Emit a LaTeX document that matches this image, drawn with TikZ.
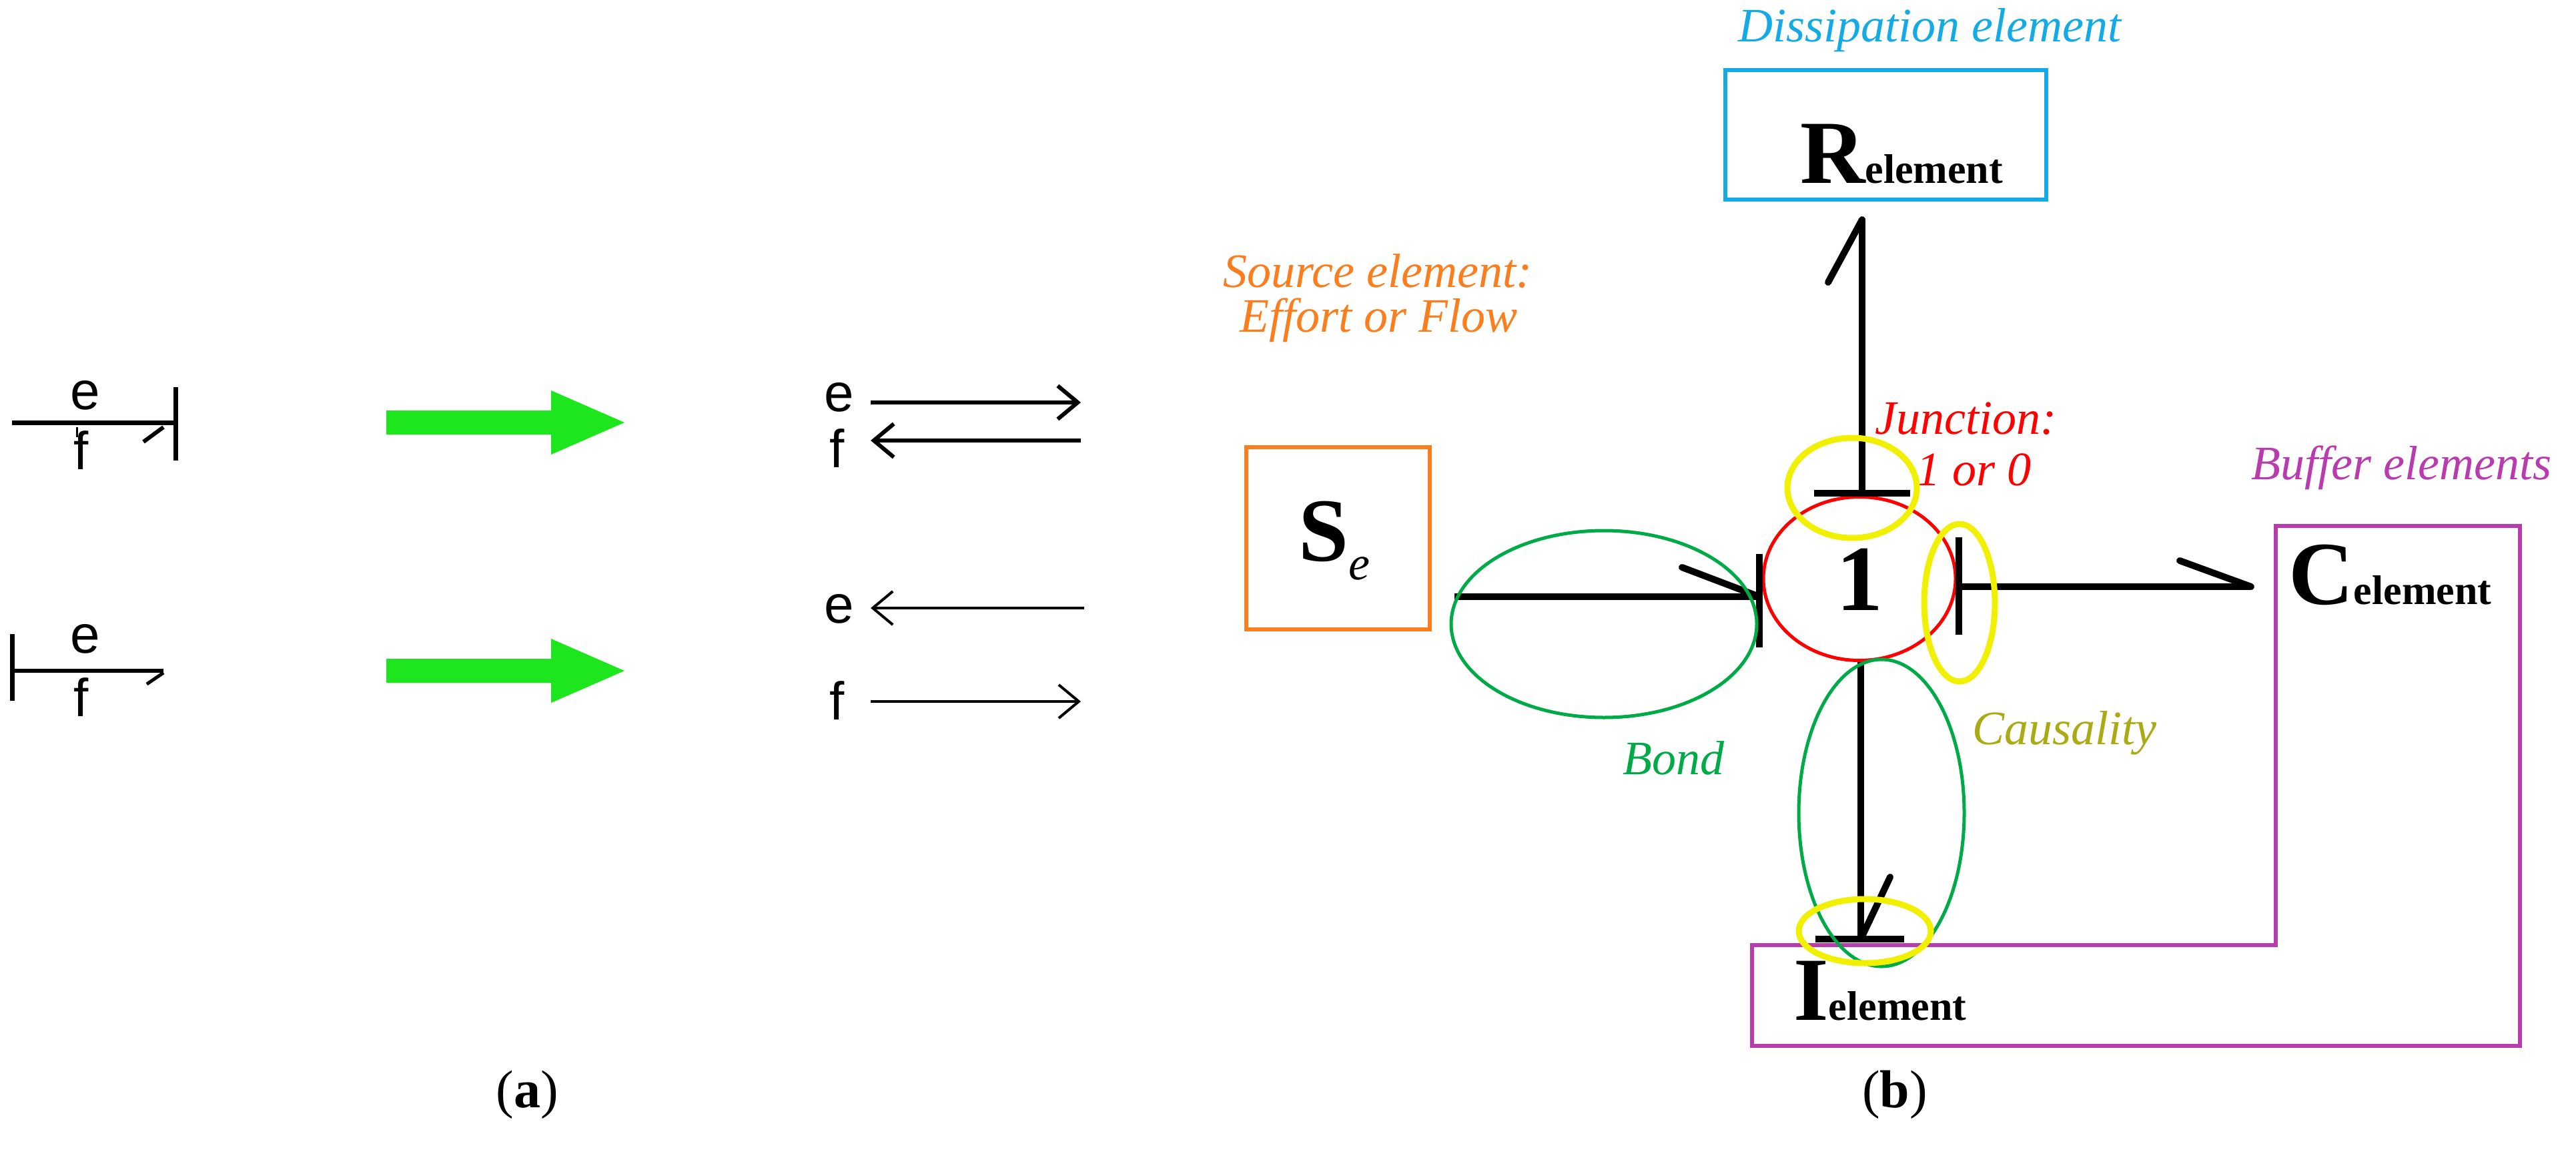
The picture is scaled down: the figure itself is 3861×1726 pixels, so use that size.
\documentclass[tikz,border=0pt]{standalone}
\usepackage{fontspec}
\setmainfont{Liberation Serif}
\newfontfamily\sansf{Liberation Sans}
\usetikzlibrary{shapes.geometric,arrows.meta}
\definecolor{orng}{RGB}{250,125,30}
\definecolor{cyn}{RGB}{20,170,230}
\definecolor{grn}{RGB}{0,170,70}
\definecolor{yel}{RGB}{240,240,0}
\definecolor{olv}{RGB}{170,170,20}
\definecolor{prp}{RGB}{185,60,175}
\definecolor{brightg}{RGB}{30,230,30}
\begin{document}
\begin{tikzpicture}[x=1pt,y=-1pt,
  bond/.style={line width=10pt},
  thinbond/.style={line width=7pt},
  box/.style={draw,line width=6pt,inner sep=0pt},
  lab/.style={font=\fontsize{72}{80}\selectfont\itshape,inner sep=0pt,align=left},
  ef/.style={font=\sansf\fontsize{80}{80}\selectfont,inner sep=0pt},
  captxt/.style={font=\fontsize{80}{80}\selectfont,inner sep=0pt},
  garrow/.style={fill=brightg,draw=none}
]
\useasboundingbox (0,0) rectangle (3861,1726);
% ---------- (a) ----------
\coordinate (a1s) at (18,633); \coordinate (a1e) at (263,633);
\draw[thinbond] (a1s) -- (a1e);
\draw[thinbond] (263,580) -- (263,690);
\draw[line width=6pt] (245,640) -- (215,662);
\draw[line width=3pt] (115,640) -- (115,655);
\node[ef] (e1) at (128,592) {e};
\node[ef] (f1) at (122,675) {f};
\coordinate (a2s) at (18,1005); \coordinate (a2e) at (245,1005);
\draw[line width=6pt] (a2s) -- (a2e);
\draw[thinbond] (18,950) -- (18,1050);
\draw[line width=5pt] (245,1008) -- (220,1025);
\node[ef] (e2) at (128,957) {e};
\node[ef] (f2) at (122,1045) {f};
\fill[garrow] (579,615) -- (826,615) -- (826,585) -- (936,633) -- (826,681) -- (826,651) -- (579,651) -- cycle;
\fill[garrow] (579,987) -- (826,987) -- (826,957) -- (936,1005) -- (826,1053) -- (826,1023) -- (579,1023) -- cycle;
\node[ef] (e3) at (1258,595) {e};
\node[ef] (f3) at (1255,672) {f};
\node[ef] (e4) at (1258,912) {e};
\node[ef] (f4) at (1255,1050) {f};
\coordinate (p3a) at (1305,603); \coordinate (p3b) at (1620,603);
\coordinate (p4a) at (1620,660); \coordinate (p4b) at (1305,660);
\coordinate (p5a) at (1625,911); \coordinate (p5b) at (1305,911);
\coordinate (p6a) at (1305,1051); \coordinate (p6b) at (1620,1051);
\draw[line width=6pt,-{Straight Barb[length=30,width=50,line width=6pt]}] (p3a) -- (p3b);
\draw[line width=6pt,-{Straight Barb[length=30,width=50,line width=6pt]}] (p4a) -- (p4b);
\draw[line width=4pt,-{Straight Barb[length=30,width=50,line width=4pt]}] (p5a) -- (p5b);
\draw[line width=4pt,-{Straight Barb[length=30,width=50,line width=4pt]}] (p6a) -- (p6b);
\node[captxt] (capa) at (790,1640) {(\textbf{a})};
% ---------- (b) ----------
\node[box,draw=orng,minimum width=275,minimum height=273] (Se) at (2005,806) {};
\node[inner sep=0pt,anchor=base] (Setxt) at (2000,840) {\fontsize{135}{135}\selectfont\bfseries S\fontsize{72}{72}\selectfont\mdseries\itshape\raisebox{-28pt}{e}};
\node[lab,text=orng,anchor=west] (srclab) at (1833,406) {Source element:};
\node[lab,text=orng,anchor=west] (srclab2) at (1858,480) {Effort or Flow};

\node[box,draw=cyn,minimum width=481,minimum height=193] (R) at (2826,202) {};
\node[inner sep=0pt,anchor=base] (Rtxt) at (2850,274) {\fontsize{135}{135}\selectfont\bfseries R\fontsize{62}{62}\selectfont element};
\node[lab,text=cyn,anchor=west] (dislab) at (2605,45) {Dissipation element};

\node[ellipse,draw=red,line width=5pt,minimum width=288,minimum height=245,inner sep=0pt] (J) at (2787,867) {};
\node[inner sep=0pt] (Jtxt) at (2787,868) {\fontsize{140}{140}\selectfont\bfseries 1};
\node[lab,text=red,anchor=base west] (jlab) at (2810,650) {Junction:};
\node[lab,text=red,anchor=base west] (jlab2) at (2872,727) {1 or 0};

\draw[prp,line width=6pt] (3411,788) -- (3777,788) -- (3777,1567) -- (2626,1567) -- (2626,1416) -- (3411,1416) -- cycle;
\node[lab,text=prp,anchor=base west] (buflab) at (3374,718) {Buffer elements};
\node[inner sep=0pt,anchor=base west] (Ctxt) at (3430,905) {\fontsize{135}{135}\selectfont\bfseries C\fontsize{62}{62}\selectfont element};
\node[inner sep=0pt,anchor=base west] (Itxt) at (2688,1528) {\fontsize{135}{135}\selectfont\bfseries I\fontsize{62}{62}\selectfont element};

\coordinate (lb0) at (2180,894); \coordinate (lb1) at (2637,894);
\draw[bond] (lb0) -- (lb1);
\draw[bond,line cap=round] (lb1) -- (2521,850);
\draw[bond] (2637,830) -- (2637,970);

\coordinate (tb0) at (2791,739); \coordinate (tb1) at (2791,329);
\draw[bond] (tb0) -- (tb1);
\draw[bond,line cap=round] (tb1) -- (2740,423);
\draw[bond] (2719,739) -- (2863,739);

\coordinate (rb0) at (2936,879); \coordinate (rb1) at (3374,879);
\draw[bond] (rb0) -- (rb1);
\draw[bond,line cap=round] (rb1) -- (3267,840);
\draw[bond] (2936,805) -- (2936,951);

\coordinate (bb0) at (2789,992); \coordinate (bb1) at (2789,1407);
\draw[bond] (bb0) -- (bb1);
\draw[bond,line cap=round] (bb1) -- (2833,1314);
\draw[bond] (2721,1407) -- (2854,1407);

\draw[grn,line width=5pt] (2404,935) ellipse [x radius=229,y radius=140];
\draw[grn,line width=5pt] (2820,1218) ellipse [x radius=124,y radius=230];
\draw[yel,line width=9pt] (2776,731) ellipse [x radius=97,y radius=75];
\draw[yel,line width=9pt] (2937,903) ellipse [x radius=53,y radius=118];
\draw[yel,line width=9pt] (2795,1395) ellipse [x radius=99,y radius=48];

\node[lab,text=grn,anchor=base west] (bondlab) at (2432,1160) {Bond};
\node[lab,text=olv,anchor=base west] (caulab) at (2956,1115) {Causality};
\node[captxt] (capb) at (2840,1640) {(\textbf{b})};
\end{tikzpicture}
\end{document}
